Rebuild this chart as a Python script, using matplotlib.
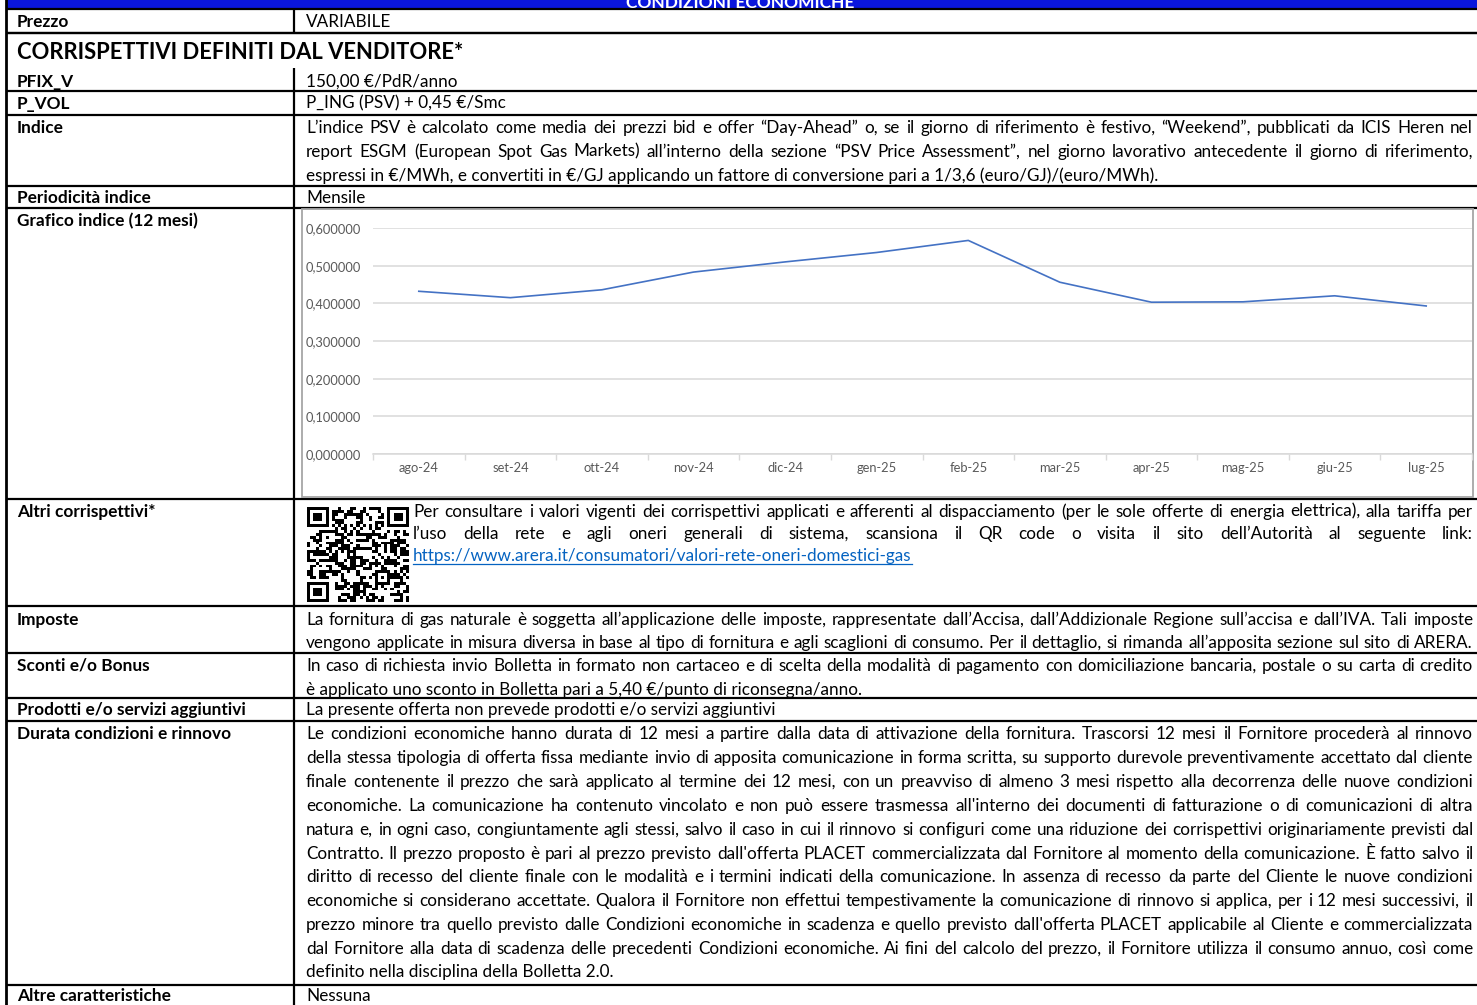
# ===================
# Part 1: Importing Libraries
# ===================
import hashlib
import numpy as np
import matplotlib.pyplot as plt
from matplotlib.patches import Rectangle
from matplotlib.ticker import FuncFormatter

plt.rcParams['font.family'] = ['Lato', 'DejaVu Sans']

# ===================
# Part 2: Data Preparation
# ===================
months = ["ago-24", "set-24", "ott-24", "nov-24", "dic-24", "gen-25",
          "feb-25", "mar-25", "apr-25", "mag-25", "giu-25", "lug-25"]
psv_index = [0.432, 0.415, 0.436, 0.483, 0.510, 0.535,
             0.567, 0.456, 0.403, 0.404, 0.420, 0.393]
y_ticks = [0.0, 0.1, 0.2, 0.3, 0.4, 0.5, 0.6]

header_title = "CONDIZIONI ECONOMICHE"
section_title = "CORRISPETTIVI DEFINITI DAL VENDITORE*"

prezzo_text = ["VARIABILE"]
pfix_text = ["150,00 €/PdR/anno"]
pvol_text = ["P_ING (PSV) + 0,45 €/Smc"]
indice_text = [
    "L’indice PSV è calcolato come media dei prezzi bid e offer “Day-Ahead” o, se il giorno di riferimento è festivo, “Weekend”, pubblicati da ICIS Heren nel",
    "report ESGM (European Spot Gas Markets) all’interno della sezione “PSV Price Assessment”, nel giorno lavorativo antecedente il giorno di riferimento,",
    "espressi in €/MWh, e convertiti in €/GJ applicando un fattore di conversione pari a 1/3,6 (euro/GJ)/(euro/MWh).",
]
periodicita_text = ["Mensile"]
altri_text = [
    "Per consultare i valori vigenti dei corrispettivi applicati e afferenti al dispacciamento (per le sole offerte di energia elettrica), alla tariffa per",
    "l’uso della rete e agli oneri generali di sistema, scansiona il QR code o visita il sito dell’Autorità al seguente link:",
]
arera_link = "https://www.arera.it/consumatori/valori-rete-oneri-domestici-gas"
imposte_text = [
    "La fornitura di gas naturale è soggetta all’applicazione delle imposte, rappresentate dall’Accisa, dall’Addizionale Regione sull’accisa e dall’IVA. Tali imposte",
    "vengono applicate in misura diversa in base al tipo di fornitura e agli scaglioni di consumo. Per il dettaglio, si rimanda all’apposita sezione sul sito di ARERA.",
]
sconti_text = [
    "In caso di richiesta invio Bolletta in formato non cartaceo e di scelta della modalità di pagamento con domiciliazione bancaria, postale o su carta di credito",
    "è applicato uno sconto in Bolletta pari a 5,40 €/punto di riconsegna/anno.",
]
prodotti_text = ["La presente offerta non prevede prodotti e/o servizi aggiuntivi"]
durata_text = [
    "Le condizioni economiche hanno durata di 12 mesi a partire dalla data di attivazione della fornitura. Trascorsi 12 mesi il Fornitore procederà al rinnovo",
    "della stessa tipologia di offerta fissa mediante invio di apposita comunicazione in forma scritta, su supporto durevole preventivamente accettato dal cliente",
    "finale contenente il prezzo che sarà applicato al termine dei 12 mesi, con un preavviso di almeno 3 mesi rispetto alla decorrenza delle nuove condizioni",
    "economiche. La comunicazione ha contenuto vincolato e non può essere trasmessa all'interno dei documenti di fatturazione o di comunicazioni di altra",
    "natura e, in ogni caso, congiuntamente agli stessi, salvo il caso in cui il rinnovo si configuri come una riduzione dei corrispettivi originariamente previsti dal",
    "Contratto. Il prezzo proposto è pari al prezzo previsto dall'offerta PLACET commercializzata dal Fornitore al momento della comunicazione. È fatto salvo il",
    "diritto di recesso del cliente finale con le modalità e i termini indicati della comunicazione. In assenza di recesso da parte del Cliente le nuove condizioni",
    "economiche si considerano accettate. Qualora il Fornitore non effettui tempestivamente la comunicazione di rinnovo si applica, per i 12 mesi successivi, il",
    "prezzo minore tra quello previsto dalle Condizioni economiche in scadenza e quello previsto dall'offerta PLACET applicabile al Cliente e commercializzata",
    "dal Fornitore alla data di scadenza delle precedenti Condizioni economiche. Ai fini del calcolo del prezzo, il Fornitore utilizza il consumo annuo, così come",
    "definito nella disciplina della Bolletta 2.0.",
]
altre_text = ["Nessuna"]

# ===================
# Part 3: Plot Configuration and Rendering
# ===================
W, H = 1477, 1005
BODY = 12.3
LABEL = 12.4
BASE = 5.5  # baseline offset below the visual line centre, px
fig = plt.figure(figsize=(W / 100, H / 100), dpi=100)
ax = fig.add_axes([0, 0, 1, 1])
ax.set_xlim(0, W)
ax.set_ylim(H, 0)
ax.axis('off')
renderer = fig.canvas.get_renderer()

LEFT, DIV, RIGHT = 6, 294, W
LABEL_X, TEXT_X, TEXT_END = 17, 306, 1473
STEP = 23.8


def paragraph(lines, x0, y0, x1=TEXT_END, step=STEP, justify_last=False, **kw):
    for i, line in enumerate(lines):
        # same sub-pixel phase on every line keeps the words of a justified line level
        y = round(y0 + i * step + BASE) + 0.7
        words = line.split()
        if (i == len(lines) - 1 and not justify_last) or len(words) == 1:
            ax.text(x0, y, line, va='baseline', ha='left', fontsize=BODY, **kw)
            continue
        texts = [ax.text(x0, y, w, va='baseline', ha='left', fontsize=BODY, **kw) for w in words]
        widths = [t.get_window_extent(renderer=renderer).width for t in texts]
        gap = (x1 - x0 - sum(widths)) / (len(words) - 1)
        x = x0
        for t, w in zip(texts, widths):
            t.set_x(x)
            x += w + gap


# header bar
ax.add_patch(Rectangle((LEFT, 0), W - LEFT, 9, color='#0A16DC', lw=0))
ax.text(740, 7.5, header_title, color='white', fontsize=12.5, fontweight='bold',
        ha='center', va='baseline')

# table rows: (top, bottom, label, text lines, offset of first text line)
rows = [
    (9, 33, "Prezzo", prezzo_text, 12),
    (68, 91, "PFIX_V", pfix_text, 12),
    (91, 115, "P_VOL", pvol_text, 12),
    (115, 186, "Indice", indice_text, 12),
    (186, 208, "Periodicità indice", periodicita_text, 11),
    (208, 499, "Grafico indice (12 mesi)", [], 12),
    (499, 606, "Altri corrispettivi*", [], 12),
    (606, 653, "Imposte", imposte_text, 12),
    (653, 698, "Sconti e/o Bonus", sconti_text, 12),
    (698, 721, "Prodotti e/o servizi aggiuntivi", prodotti_text, 11),
    (721, 985, "Durata condizioni e rinnovo", durata_text, 12),
    (985, 1012, "Altre caratteristiche", altre_text, 10),
]

line_kw = dict(color='black', lw=1.6, solid_capstyle='butt')
for top, bottom, label, lines, off in rows:
    ax.plot([LEFT, RIGHT], [bottom, bottom], **line_kw)
    ax.plot([DIV, DIV], [top, bottom], **line_kw)
    ax.text(LABEL_X, round(top + off + BASE) + 0.7, label, fontsize=LABEL, fontweight='bold',
            va='baseline', ha='left')
    paragraph(lines, TEXT_X, top + off, justify_last=(label == "Imposte"))
ax.plot([LEFT, RIGHT], [9, 9], **line_kw)
ax.plot([LEFT, RIGHT], [33, 33], **line_kw)
ax.plot([LEFT, LEFT], [0, H], color='black', lw=2.0)

# section title row
ax.text(LABEL_X, 58.7, section_title, fontsize=15.8, fontweight='bold', va='baseline', ha='left')

# QR code style block (deterministic pattern from the link)
n = 33
bits = []
seed = arera_link.encode()
while len(bits) < n * n:
    seed = hashlib.sha256(seed).digest()
    for b in seed:
        bits.extend((b >> k) & 1 for k in range(8))
qr = np.array(bits[:n * n]).reshape(n, n)
for r, c in [(0, 0), (0, n - 7), (n - 7, 0)]:
    qr[max(r - 1, 0):min(r + 8, n), max(c - 1, 0):min(c + 8, n)] = 0
    qr[r:r + 7, c:c + 7] = 1
    qr[r + 1:r + 6, c + 1:c + 6] = 0
    qr[r + 2:r + 5, c + 2:c + 5] = 1
qr[6, 8:n - 8] = (np.arange(8, n - 8) + 1) % 2
qr[8:n - 8, 6] = (np.arange(8, n - 8) + 1) % 2
qr[n - 11:n - 6, n - 11:n - 6] = 1
qr[n - 10:n - 7, n - 10:n - 7] = 0
qr[n - 9, n - 9] = 1
ax.imshow(qr, cmap='gray_r', extent=(307, 409, 602, 507), aspect='auto',
          interpolation='nearest', zorder=2)

paragraph(altri_text, 413, 511, step=22, justify_last=True)
link = ax.text(413, 560.7, arera_link, color='#0563C1', fontsize=BODY, va='baseline', ha='left')
lw_link = link.get_window_extent(renderer=renderer).width
ax.plot([413, 413 + lw_link], [563.5, 563.5], color='#0563C1', lw=0.9)

# chart frame
ax.add_patch(Rectangle((302, 209), 1171, 288, fill=False, edgecolor='#A6A6A6', lw=1.3, zorder=3))

# line chart
cx0, cx1, cy0, cy1 = 373, 1472, 228, 454
axc = fig.add_axes([cx0 / W, 1 - cy1 / H, (cx1 - cx0) / W, (cy1 - cy0) / H])
xpos = np.arange(len(months))
axc.plot(xpos, psv_index, color='#4472C4', lw=1.2)
axc.set_xlim(-0.5, len(months) - 0.5)
axc.set_ylim(0, 0.6)
axc.set_yticks(y_ticks)
axc.yaxis.set_major_formatter(FuncFormatter(lambda v, p: f"{v:.6f}".replace('.', ',')))
axc.set_xticks(xpos, months)
axc.set_xticks(np.arange(-0.5, len(months)), minor=True)
axc.grid(axis='y', color='#D9D9D9', lw=1.1)
axc.set_axisbelow(True)
for s in ['top', 'right', 'left']:
    axc.spines[s].set_visible(False)
axc.spines['bottom'].set_color('#D9D9D9')
axc.spines['bottom'].set_linewidth(1.1)
axc.tick_params(axis='y', length=0, pad=8.5, labelsize=9.3, labelcolor='#595959')
axc.tick_params(axis='x', which='major', length=0, pad=6, labelsize=9.3, labelcolor='#595959')
axc.tick_params(axis='x', which='minor', length=4, width=1, color='#D9D9D9', direction='out')
axc.patch.set_alpha(0)

# ===================
# Part 4: Saving Output
# ===================
fig.savefig('out.png', dpi=100)
